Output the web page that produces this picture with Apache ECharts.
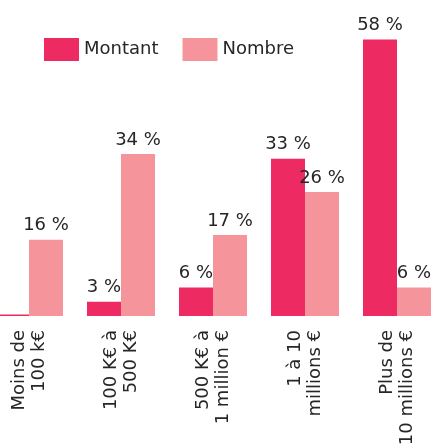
<!DOCTYPE html>
<html>
<head>
<meta charset="utf-8">
<script src="https://cdn.jsdelivr.net/npm/echarts@6/dist/echarts.min.js"></script>
<style>
  html, body { margin: 0; padding: 0; background: #fff; }
  #chart1 { width: 442px; height: 445px; }
</style>
</head>
<body>
<div id="chart1"></div>
<script>
// catégories (axe x)
var categories = ['Moins de\n100 k€', '100 K€ à\n500 K€', '500 K€ à\n1 million €', '1 à 10\nmillions €', 'Plus de\n10 millions €'];
// valeurs en %
var montant = [0.3, 3, 6, 33, 58];
var nombre = [16, 34, 17, 26, 6];

var font = 'DejaVu Sans';
var textColor = '#262626';

function labelOf(v) {
    return v < 1 ? '' : Math.round(v) + ' %';
}

var chart = echarts.init(document.getElementById('chart1'));

chart.setOption({
    animation: false,
    textStyle: { fontFamily: font },
    legend: {
        left: 44,
        top: 38,
        padding: 0,
        icon: 'rect',
        itemWidth: 35,
        itemHeight: 23,
        itemGap: 24,
        textStyle: { fontSize: 18, color: textColor, fontFamily: font },
        data: ['Montant', 'Nombre']
    },
    grid: {
        left: -17,
        right: -1,
        top: 30,
        bottom: 129,
        containLabel: false,
        outerBoundsMode: 'none'
    },
    xAxis: {
        type: 'category',
        data: categories,
        axisLine: { show: false },
        axisTick: { show: false },
        axisLabel: {
            rotate: 90,
            interval: 0,
            margin: 14,
            fontSize: 18,
            lineHeight: 20,
            color: textColor,
            fontFamily: font
        }
    },
    yAxis: {
        type: 'value',
        min: 0,
        max: 60,
        show: false,
        splitLine: { show: false }
    },
    series: [{
        name: 'Montant',
        type: 'bar',
        data: montant,
        barWidth: 34,
        barGap: '0%',
        itemStyle: { color: '#ee2a63' },
        label: {
            show: true,
            position: 'top',
            distance: 5,
            fontSize: 18,
            color: textColor,
            fontFamily: font,
            formatter: function (p) { return labelOf(p.value); }
        }
    }, {
        name: 'Nombre',
        type: 'bar',
        data: nombre,
        barWidth: 34,
        barGap: '0%',
        itemStyle: { color: '#f5959b' },
        label: {
            show: true,
            position: 'top',
            distance: 5,
            fontSize: 18,
            color: textColor,
            fontFamily: font,
            formatter: function (p) { return labelOf(p.value); }
        }
    }]
});
</script>
</body>
</html>
